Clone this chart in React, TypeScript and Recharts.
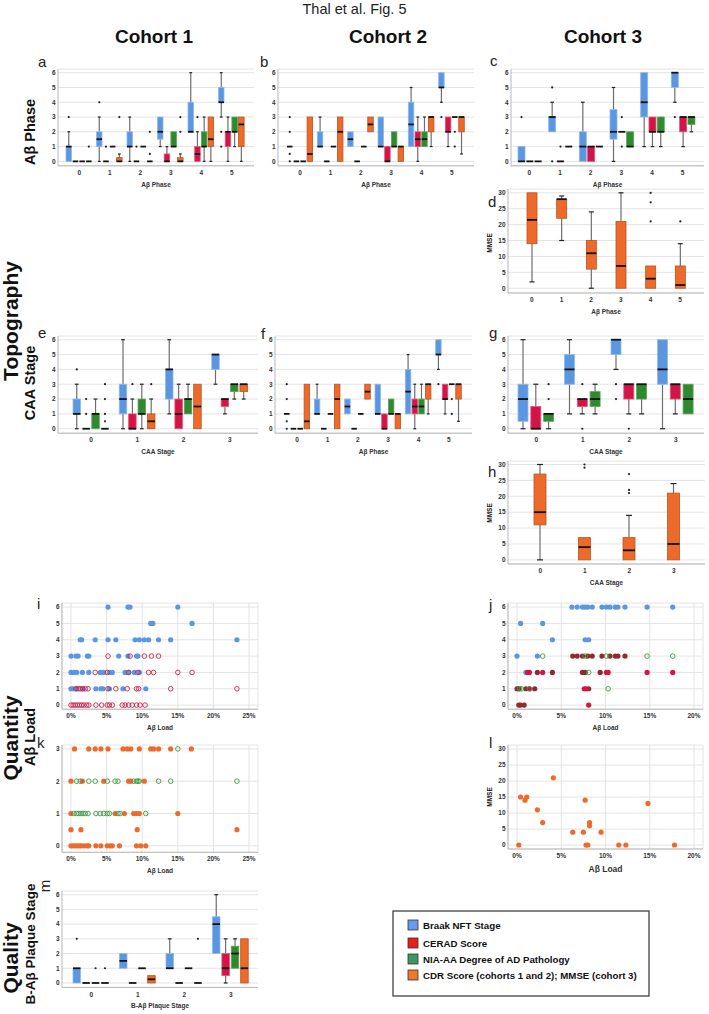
import React from 'react';
import { ComposedChart, ScatterChart, Bar, Scatter, XAxis, YAxis, CartesianGrid } from 'recharts';

const FONT = '"Liberation Sans", Arial, Helvetica, sans-serif';
const GRID = '#e4e4e4';
const AXIS = '#b8b8b8';
const TICK = { fontSize: 6.5, fontWeight: 700, fill: '#333', fontFamily: FONT };

// colours
const BLUE = '#5b96e0';
const BLUE_S = '#8fb9ec';
const RED = '#d31447';
const RED_S = '#e0577b';
const GREEN = '#2f8a2f';
const GREEN_S = '#58a558';
const ORANGE = '#ee6a2b';
const ORANGE_S = '#b9531f';
const DARKRED = '#8e2b2f';

// ---------- categories & ticks ----------
const phaseCats = ['0', '1', '2', '3', '4', '5'];
const caaCats = ['0', '1', '2', '3'];
const plaqueCats = ['0', '1', '2', '3'];
const scoreTicks = [0, 1, 2, 3, 4, 5, 6];
const mmseTicks = [0, 5, 10, 15, 20, 25, 30];
const cdrTicks = [0, 1, 2, 3];
const load25Ticks = [0, 5, 10, 15, 20, 25];
const load20Ticks = [0, 5, 10, 15, 20];

// ---------- box plot data: [whiskerLow, Q1, median, Q3, whiskerHigh] ----------
type Stat = number[];
// Panel a – cohort 1, Aβ phase
const aBraak: Stat[] = [[0, 0, 1, 1, 2], [0, 1, 1.5, 2, 3], [0, 1, 1, 2, 3], [1, 1.5, 2, 3, 3], [2, 2, 2, 4, 6], [3, 4, 4, 5, 6]];
const aBraakOut = [[3], [4], [], [], [], [2, 1]];
const aCerad: Stat[] = [[0, 0, 0, 0, 0], [0, 0, 0, 0, 0], [0, 0, 0, 0, 0], [0, 0, 0, 0.5, 1], [0, 0, 0.5, 1, 2], [0, 1, 2, 2, 3]];
const aCeradOut = [[], [1], [1], [], [3], []];
const aNia: Stat[] = [[0, 0, 0, 0, 0], [1, 1, 1, 1, 1], [1, 1, 1, 1, 1], [1, 1, 1, 2, 2], [0, 1, 1, 2, 3], [1, 2, 2, 3, 3]];
const aNiaOut = [[], [], [], [], [], []];
const aCdr: Stat[] = [[0, 0, 0, 0, 0], [0, 0, 0, 0.25, 0.5], [0, 0, 0, 0, 0], [0, 0, 0, 0.25, 0.5], [0, 1, 1.5, 3, 3], [0, 1, 2.5, 3, 3]];
const aCdrOut = [[1], [3], [2, 0.5], [2, 3], [], []];
// Panel b / f – cohort 2, Aβ phase
const bBraak: Stat[] = [[1, 1, 1, 1, 1], [1, 1, 1, 2, 3], [1, 1, 1.5, 2, 2], [1, 1, 1, 3, 3], [1, 1, 2.5, 4, 5], [4, 5, 5, 6, 6]];
const bBraakOut = [[3, 2, 0.5, 0], [], [], [], [], [3]];
const bCerad: Stat[] = [[0, 0, 0, 0, 0], [0, 0, 0, 0, 0], [0, 0, 0, 0, 0], [0, 0, 0, 1, 1], [0, 1, 1.5, 2, 3], [1, 2, 2, 3, 3]];
const bCeradOut = [[], [], [], [], [], []];
const bNia: Stat[] = [[0, 0, 0, 0, 0], [1, 1, 1, 1, 1], [1, 1, 1, 1, 1], [1, 1, 1, 2, 2], [1, 1, 1.5, 2, 3], [3, 3, 3, 3, 3]];
const bNiaOut = [[], [], [], [], [], [2, 1]];
const bCdr: Stat[] = [[0, 0, 0.5, 3, 3], [0, 0, 2, 3, 3], [2, 2, 2.5, 3, 3], [0, 0, 1, 1, 1], [1, 2, 3, 3, 3], [0.5, 2, 3, 3, 3]];
const bCdrOut = [[], [], [], [], [], []];
// Panel c – cohort 3, Aβ phase
const cBraak: Stat[] = [[0, 0, 0, 1, 1], [2, 2, 3, 3, 4], [0, 0, 1, 2, 4], [0, 1.5, 2, 3.5, 5], [1, 3, 4, 6, 6], [4, 5, 6, 6, 6]];
const cBraakOut = [[3], [5, 0], [], [], [], [3]];
const cCerad: Stat[] = [[0, 0, 0, 0, 0], [0, 0, 0, 0, 0], [0, 0, 1, 1, 1], [2, 2, 2, 2, 2], [1, 2, 2, 3, 3], [1, 2, 3, 3, 3]];
const cCeradOut = [[], [1], [], [3, 1], [], []];
const cNia: Stat[] = [[0, 0, 0, 0, 0], [1, 1, 1, 1, 1], [1, 1, 1, 1, 1], [1, 1, 1, 2, 2], [1, 2, 2, 3, 3], [2, 2.5, 3, 3, 3]];
const cNiaOut = [[], [], [], [], [], []];
// Panel d – cohort 3 MMSE by Aβ phase
const dMmse: Stat[] = [[2, 14, 21.5, 30, 30], [15, 22, 28, 28, 29], [0, 6, 11, 15, 24], [0, 0, 7, 21, 30], [0, 0, 3, 7, 7], [0, 0, 1, 7, 14]];
const dMmseOut = [[], [], [], [], [21, 27, 30], [21]];
// Panel e – cohort 1, CAA stage
const eBraak: Stat[] = [[0, 1, 1, 2, 3], [0, 1, 2, 3, 6], [1, 2, 4, 4, 6], [3, 4, 5, 5, 5]];
const eBraakOut = [[4], [], [], []];
const eCerad: Stat[] = [[0, 0, 0, 0, 0], [0, 0, 0, 1, 2], [0, 0, 1, 2, 3], [1, 1.5, 2, 2, 2]];
const eCeradOut = [[2, 1], [3], [], []];
const eNia: Stat[] = [[0, 0, 1, 1, 2], [0, 1, 1, 2, 3], [1, 1, 2, 2, 3], [2, 2.5, 3, 3, 3]];
const eNiaOut = [[], [], [], []];
const eCdr: Stat[] = [[0, 0, 0, 0, 0], [0, 0, 0.5, 1, 2], [0, 0, 1.5, 3, 3], [2, 2.5, 3, 3, 3]];
const eCdrOut = [[3, 2, 1, 0.5], [3], [], []];
// Panel g – cohort 3, CAA stage
const gBraak: Stat[] = [[0, 0.5, 2, 3, 6], [1, 3, 4, 5, 6], [4, 5, 6, 6, 6], [0, 3, 4, 6, 6]];
const gBraakOut = [[], [], [3, 2], []];
const gCerad: Stat[] = [[0, 0, 0, 1.5, 3], [1, 1.5, 2, 2, 2], [1, 2, 3, 3, 3], [1, 2, 3, 3, 3]];
const gCeradOut = [[], [3, 0], [0], []];
const gNia: Stat[] = [[0, 0.5, 1, 1, 1], [1, 1.5, 2, 2.5, 3], [1, 2, 3, 3, 3], [1, 1, 2, 3, 3]];
const gNiaOut = [[3, 2], [], [], []];
// Panel h – cohort 3 MMSE by CAA stage
const hMmse: Stat[] = [[0, 11, 15, 27, 30], [0, 0, 4, 7, 7], [0, 0, 3, 7, 14], [0, 0, 5, 21, 24]];
const hMmseOut = [[], [29, 30], [21, 22, 27], []];
// Panel m – cohort 1, B-Aβ plaque stage
const mBraak: Stat[] = [[0, 0, 1, 1, 1], [1, 1, 1.5, 2, 2], [1, 1, 1, 2, 3], [2, 2, 4, 4.5, 6]];
const mBraakOut = [[3], [], [], []];
const mCerad: Stat[] = [[0, 0, 0, 0, 0], [0, 0, 0, 0, 0], [0, 0, 0, 0, 0], [0, 0.5, 1, 2, 3]];
const mCeradOut = [[], [], [], []];
const mNia: Stat[] = [[0, 0, 0, 0, 0], [1, 1, 1, 1, 1], [1, 1, 1, 1, 1], [1, 1, 2, 2.5, 3]];
const mNiaOut = [[1], [], [], []];
const mCdr: Stat[] = [[0, 0, 0, 0, 0], [0, 0, 0.25, 0.5, 0.5], [0, 0, 0, 0, 0], [0, 0, 1, 3, 3]];
const mCdrOut = [[1], [], [3], []];

// ---------- scatter data: [score, loads(%)] ----------
type Row = [number, number[]];
const iBraak: Row[] = [
  [6, [5.2, 8.0, 8.3, 15.0]],
  [5, [11.2, 11.5, 17.0]],
  [4, [1.3, 1.5, 3.4, 5.2, 6.3, 9.0, 9.6, 10.3, 10.9, 12.3, 14.0, 23.3]],
  [3, [0, 0.7, 1.0, 2.3, 2.5, 6.7, 8.0, 9.2, 9.4]],
  [2, [0, 0.4, 0.8, 1.6, 2.5, 4.1, 4.6, 5.4, 5.8, 7.6, 8.1, 8.9, 9.6]],
  [1, [0, 0.3, 0.7, 1.7, 3.5, 4.2, 4.5, 5.4, 7.3, 10.5]],
];
const iCerad: Row[] = [
  [3, [5.2, 8.3, 10.3, 11.3, 12.3]],
  [2, [3.4, 5.1, 8.1, 9.4, 10.9, 11.6, 15.0, 17.0]],
  [1, [0.7, 1.0, 1.3, 1.6, 2.0, 2.4, 5.2, 6.3, 7.9, 9.2, 9.5, 14.0, 23.3]],
  [0, [0, 0.3, 0.6, 0.9, 1.2, 1.5, 1.8, 2.2, 2.5, 3.5, 4.3, 5.1, 5.4, 5.8, 7.2, 7.6, 8.1, 8.6, 9.2, 9.7, 10.4]],
];
const kNia: Row[] = [
  [3, [15.0]],
  [2, [0.8, 1.3, 2.5, 3.4, 5.1, 6.2, 6.6, 8.8, 9.2, 9.4, 9.6, 12.3, 14.0, 23.3]],
  [1, [0.4, 0.8, 1.1, 1.4, 1.7, 2.0, 2.4, 3.5, 4.1, 4.6, 5.1, 5.4, 6.6, 6.9, 10.5]],
];
const kCdr: Row[] = [
  [3, [0.5, 2.5, 3.4, 4.2, 5.2, 7.3, 7.9, 8.4, 9.6, 11.2, 11.6, 12.3, 14.0, 16.9]],
  [2, [0, 1.6, 4.6, 8.1, 8.4, 10.3]],
  [1, [0, 6.2, 7.5, 8.8, 9.2, 9.6, 15.0]],
  [0.5, [0, 1.4, 9.3, 23.3]],
  [0, [0, 0.3, 0.6, 0.9, 1.2, 1.5, 1.9, 2.3, 2.5, 3.5, 4.2, 5.1, 5.5, 5.8, 6.8, 9.2, 9.8, 10.5]],
];
const jBraak: Row[] = [
  [6, [6.2, 6.8, 7.4, 7.7, 8.0, 8.5, 9.6, 10.1, 10.5, 11.1, 11.4, 12.2, 14.7, 17.6]],
  [5, [0.4, 2.9]],
  [4, [4.0, 7.7, 8.1]],
  [3, [0, 2.3]],
  [2, [1.0]],
];
const jNia: Row[] = [
  [3, [6.3, 6.8, 7.4, 8.0, 8.5, 9.6, 10.5, 11.1, 11.4, 12.2]],
  [2, [2.3, 4.0, 7.4, 7.7, 9.4]],
  [1, [0, 0.2, 1.0, 2.0, 8.1]],
  [0, [0.2, 0.4, 0.8]],
];
const jCerad: Row[] = [
  [2, [1.2, 1.4, 2.9, 10.1, 10.3, 14.7, 17.6]],
  [1, [1.4, 7.6, 7.8]],
  [0, [8.1]],
];
const jOpen: Row[] = [
  [3, [2.9, 7.7, 10.1, 14.7, 17.6]],
  [2, [8.1]],
  [1, [0.3, 0.5, 1.4, 10.3]],
];
const lLoad = [0.2, 0.4, 0.9, 1.1, 2.3, 2.9, 4.1, 6.3, 7.5, 7.7, 7.8, 8.0, 8.2, 8.2, 9.5, 11.5, 12.3, 14.8, 17.8];
const lMmse = [0, 15, 14, 15, 11, 7, 21, 4, 4, 14, 0, 0, 7, 6, 4, 0, 0, 13, 0];

// ---------- legend ----------
const legendItems = [
  { label: 'Braak NFT Stage', color: '#6a9af0' },
  { label: 'CERAD Score', color: '#ee1c1c' },
  { label: 'NIA-AA Degree of AD Pathology', color: '#3a9a62' },
  { label: 'CDR Score (cohorts 1 and 2); MMSE (cohort 3)', color: '#f0782a' },
];

// ---------- helpers ----------
interface BoxSeries { stats: Stat[]; out: number[][]; fill: string; stroke: string }
const YW = 22, MT = 5, MR = 5, XH = 24;

function buildRows(cats: string[], series: BoxSeries[]) {
  return cats.map((c, i) => {
    const row: any = { cat: c };
    series.forEach((s, k) => {
      const st = s.stats[i];
      const o = s.out[i] || [];
      const all = [st[0], st[4], ...o];
      row['s' + k] = st;
      row['o' + k] = o;
      row['e' + k] = [Math.min(...all), Math.max(...all)];
      row['b' + k] = [st[1], st[3]];
    });
    return row;
  });
}

function makeExtent(k: number) {
  return (p: any) => {
    const st: Stat = p.payload['s' + k];
    const o: number[] = p.payload['o' + k];
    const [mn, mx] = p.payload['e' + k];
    if (!(mx > mn) || !(p.height > 0)) return <g />;
    const ppu = p.height / (mx - mn);
    const Y = (v: number) => p.y + (mx - v) * ppu;
    const cx = p.x + p.width / 2;
    const cw = Math.max(2.5, p.width * 0.5);
    return (
      <g>
        {st[4] > st[3] && <line x1={cx} x2={cx} y1={Y(st[3])} y2={Y(st[4])} stroke="#6e6e6e" strokeWidth={1.2} />}
        {st[4] > st[3] && <line x1={cx - cw / 2} x2={cx + cw / 2} y1={Y(st[4])} y2={Y(st[4])} stroke="#222" strokeWidth={1.2} />}
        {st[0] < st[1] && <line x1={cx} x2={cx} y1={Y(st[1])} y2={Y(st[0])} stroke="#6e6e6e" strokeWidth={1.2} />}
        {st[0] < st[1] && <line x1={cx - cw / 2} x2={cx + cw / 2} y1={Y(st[0])} y2={Y(st[0])} stroke="#222" strokeWidth={1.2} />}
        {o.map((v, j) => <circle key={j} cx={cx} cy={Y(v)} r={1.1} fill="#222" />)}
      </g>
    );
  };
}

function makeBox(k: number, s: BoxSeries) {
  return (p: any) => {
    const st: Stat = p.payload['s' + k];
    if (st[3] > st[1] && p.height > 0) {
      const ppu = p.height / (st[3] - st[1]);
      const my = p.y + (st[3] - st[2]) * ppu;
      return (
        <g>
          <rect x={p.x} y={p.y} width={p.width} height={p.height} fill={s.fill} stroke={s.stroke} strokeWidth={0.8} />
          <line x1={p.x} x2={p.x + p.width} y1={my} y2={my} stroke="#111" strokeWidth={1.8} />
        </g>
      );
    }
    return <line x1={p.x} x2={p.x + p.width} y1={p.y} y2={p.y} stroke="#111" strokeWidth={1.8} />;
  };
}

interface BoxPanelProps {
  left: number; top: number; w: number; h: number; cats: string[]; series: BoxSeries[];
  domain: [number, number]; ticks: number[]; pad: [number, number]; barSize: number; barGap: number; xLabel: string;
}

function BoxPanel({ left, top, w, h, cats, series, domain, ticks, pad, barSize, barGap, xLabel }: BoxPanelProps) {
  const rows = buildRows(cats, series);
  return (
    <div style={{ position: 'absolute', left: left - YW, top: top - MT }}>
      <ComposedChart width={w + YW + MR} height={h + MT + XH} data={rows} margin={{ top: MT, right: MR, left: 0, bottom: 0 }} barGap={barGap}>
        <CartesianGrid vertical={false} stroke={GRID} xAxisId="x" />
        <XAxis xAxisId="x" dataKey="cat" type="category" padding={{ left: pad[0], right: pad[1] }} height={XH} interval={0}
          tickLine={false} axisLine={{ stroke: AXIS }} tick={TICK} tickSize={3} tickMargin={1.5}
          label={{ value: xLabel, position: 'insideBottom', offset: 3, fontSize: 6.5, fontWeight: 700, fill: '#333', fontFamily: FONT }} />
        <XAxis xAxisId="w" dataKey="cat" type="category" padding={{ left: pad[0], right: pad[1] }} height={0} hide />
        <YAxis type="number" domain={domain} ticks={ticks} width={YW} interval={0} tickLine={false} axisLine={{ stroke: AXIS }}
          tick={TICK} tickSize={2} tickMargin={0.5} />
        {series.map((s, k) => (
          <Bar key={'e' + k} xAxisId="w" dataKey={'e' + k} barSize={barSize} fill="none" shape={makeExtent(k)} isAnimationActive={false} />
        ))}
        {series.map((s, k) => (
          <Bar key={'b' + k} xAxisId="x" dataKey={'b' + k} barSize={barSize} fill={s.fill} shape={makeBox(k, s)} isAnimationActive={false} />
        ))}
      </ComposedChart>
    </div>
  );
}

interface ScatterSeries { rows: { x: number; y: number }[]; color: string; hollow?: boolean }

function fromRows(rows: Row[]) {
  const pts: { x: number; y: number }[] = [];
  rows.forEach(([y, xs]) => xs.forEach((x) => pts.push({ x, y })));
  return pts;
}

function dot(color: string, hollow?: boolean) {
  return (p: any) => (
    <circle cx={p.cx} cy={p.cy} r={hollow ? 2.3 : 2.6} fill={hollow ? 'none' : color} stroke={color} strokeWidth={hollow ? 0.9 : 0} />
  );
}

interface ScatterPanelProps {
  left: number; top: number; w: number; h: number; xDomain: [number, number]; xTicks: number[];
  yDomain: [number, number]; yTicks: number[]; series: ScatterSeries[]; xLabel: string; xLabelSize?: number;
}

function ScatterPanel({ left, top, w, h, xDomain, xTicks, yDomain, yTicks, series, xLabel, xLabelSize }: ScatterPanelProps) {
  return (
    <div style={{ position: 'absolute', left: left - YW, top: top - MT }}>
      <ScatterChart width={w + YW + MR} height={h + MT + XH} margin={{ top: MT, right: MR, left: 0, bottom: 0 }}>
        <CartesianGrid stroke={GRID} />
        <XAxis type="number" dataKey="x" domain={xDomain} ticks={xTicks} interval={0} height={XH} tickFormatter={(v: number) => v + '%'}
          tickLine={false} axisLine={{ stroke: AXIS }} tick={TICK} tickSize={3} tickMargin={1.5}
          label={{ value: xLabel, position: 'insideBottom', offset: xLabelSize ? 1 : 3, fontSize: xLabelSize || 6.5, fontWeight: 700, fill: '#333', fontFamily: FONT }} />
        <YAxis type="number" dataKey="y" domain={yDomain} ticks={yTicks} interval={0} width={YW} tickLine={false} axisLine={{ stroke: AXIS }}
          tick={TICK} tickSize={2} tickMargin={0.5} />
        {series.map((s, k) => (
          <Scatter key={k} data={s.rows} fill={s.color} shape={dot(s.color, s.hollow)} isAnimationActive={false} />
        ))}
      </ScatterChart>
    </div>
  );
}

function RotText({ x, y, size, children, weight = 700 }: any) {
  return (
    <text transform={`translate(${x},${y}) rotate(-90)`} textAnchor="middle" fontSize={size} fontWeight={weight} fill="#111" fontFamily={FONT}>
      {children}
    </text>
  );
}

function Letter({ x, y, children }: any) {
  return <text x={x} y={y} fontSize={15} fill="#222" fontFamily={FONT}>{children}</text>;
}

function Overlay() {
  return (
    <svg width={709} height={1014} style={{ position: 'absolute', left: 0, top: 0 }}>
      <text x={354.5} y={14} textAnchor="middle" fontSize={14.5} fill="#222" fontFamily={FONT}>Thal et al. Fig. 5</text>
      <text x={154} y={43} textAnchor="middle" fontSize={19} fontWeight={700} fill="#111" fontFamily={FONT}>Cohort 1</text>
      <text x={388} y={43} textAnchor="middle" fontSize={19} fontWeight={700} fill="#111" fontFamily={FONT}>Cohort 2</text>
      <text x={603} y={43} textAnchor="middle" fontSize={19} fontWeight={700} fill="#111" fontFamily={FONT}>Cohort 3</text>

      <RotText x={35} y={132} size={14.5}>Aβ Phase</RotText>
      <RotText x={18} y={321} size={21}>Topography</RotText>
      <RotText x={35} y={383} size={14.5}>CAA Stage</RotText>
      <RotText x={18} y={738} size={21}>Quantity</RotText>
      <RotText x={35} y={737} size={14.5}>Aβ Load</RotText>
      <RotText x={18} y={958} size={21}>Quality</RotText>
      <RotText x={35} y={944} size={13.5}>B-Aβ Plaque Stage</RotText>

      <Letter x={38} y={67}>a</Letter>
      <Letter x={260} y={67}>b</Letter>
      <Letter x={490} y={66}>c</Letter>
      <Letter x={488} y={207}>d</Letter>
      <Letter x={38} y={338}>e</Letter>
      <Letter x={261} y={339}>f</Letter>
      <Letter x={489} y={338}>g</Letter>
      <Letter x={488} y={477}>h</Letter>
      <Letter x={37} y={609}>i</Letter>
      <Letter x={489} y={610}>j</Letter>
      <Letter x={37} y={748}>k</Letter>
      <Letter x={489} y={748}>l</Letter>
      <text transform="translate(50,886) rotate(-90)" textAnchor="middle" fontSize={15} fill="#222" fontFamily={FONT}>m</text>

      <RotText x={492} y={243} size={6.5}>MMSE</RotText>
      <RotText x={492} y={513} size={6.5}>MMSE</RotText>
      <RotText x={492} y={797} size={6.5}>MMSE</RotText>

      <rect x={393} y={911} width={256} height={85} fill="#fff" stroke="#333" strokeWidth={1.2} />
      {legendItems.map((it, i) => {
        const cy = [925, 943, 959, 975][i];
        return (
          <g key={i}>
            <rect x={408} y={cy - 5} width={10} height={10} fill={it.color} stroke="#333" strokeWidth={0.8} />
            <text x={423} y={cy + 3.5} fontSize={9.7} fontWeight={700} fill="#111" fontFamily={FONT}>{it.label}</text>
          </g>
        );
      })}
    </svg>
  );
}

const S = (stats: Stat[], out: number[][], fill: string, stroke: string): BoxSeries => ({ stats, out, fill, stroke });

export default function App() {
  return (
    <div style={{ position: 'absolute', left: 0, top: 0, width: 709, height: 1014, background: '#fff', fontFamily: FONT, overflow: 'hidden' }}>
      <Overlay />
      {/* a */}
      <BoxPanel left={58} top={68.6} w={196} h={96.8} cats={phaseCats} domain={[-0.3, 6.25]} ticks={scoreTicks} pad={[6, 7]} barSize={5.5} barGap={1.2} xLabel="Aβ Phase"
        series={[S(aBraak, aBraakOut, BLUE, BLUE_S), S(aCerad, aCeradOut, RED, RED_S), S(aNia, aNiaOut, GREEN, GREEN_S), S(aCdr, aCdrOut, ORANGE, ORANGE_S)]} />
      {/* b */}
      <BoxPanel left={278} top={68.6} w={196} h={96.8} cats={phaseCats} domain={[-0.3, 6.25]} ticks={scoreTicks} pad={[7, 7]} barSize={5.5} barGap={1.2} xLabel="Aβ Phase"
        series={[S(bBraak, bBraakOut, BLUE, BLUE_S), S(bCerad, bCeradOut, RED, RED_S), S(bNia, bNiaOut, GREEN, GREEN_S), S(bCdr, bCdrOut, ORANGE, ORANGE_S)]} />
      {/* c */}
      <BoxPanel left={511} top={68.6} w={193} h={96.8} cats={phaseCats} domain={[-0.3, 6.25]} ticks={scoreTicks} pad={[3, 6]} barSize={7} barGap={1.3} xLabel="Aβ Phase"
        series={[S(cBraak, cBraakOut, BLUE, BLUE_S), S(cCerad, cCeradOut, RED, RED_S), S(cNia, cNiaOut, GREEN, GREEN_S)]} />
      {/* d */}
      <BoxPanel left={508} top={189} w={196} h={104} cats={phaseCats} domain={[-1.5, 31.2]} ticks={mmseTicks} pad={[9, 9]} barSize={10} barGap={0} xLabel="Aβ Phase"
        series={[S(dMmse, dMmseOut, ORANGE, ORANGE_S)]} />
      {/* e */}
      <BoxPanel left={58} top={335.6} w={200} h={97.2} cats={caaCats} domain={[-0.3, 6.25]} ticks={scoreTicks} pad={[10, 5]} barSize={7.5} barGap={1.9} xLabel="CAA Stage"
        series={[S(eBraak, eBraakOut, BLUE, BLUE_S), S(eCerad, eCeradOut, RED, RED_S), S(eNia, eNiaOut, GREEN, GREEN_S), S(eCdr, eCdrOut, ORANGE, ORANGE_S)]} />
      {/* f */}
      <BoxPanel left={275} top={335.6} w={197} h={97.2} cats={phaseCats} domain={[-0.3, 6.25]} ticks={scoreTicks} pad={[7, 8]} barSize={5.5} barGap={1.2} xLabel="Aβ Phase"
        series={[S(bBraak, bBraakOut, BLUE, BLUE_S), S(bCerad, bCeradOut, RED, RED_S), S(bNia, bNiaOut, GREEN, GREEN_S), S(bCdr, bCdrOut, ORANGE, ORANGE_S)]} />
      {/* g */}
      <BoxPanel left={508} top={335.6} w={196} h={97.2} cats={caaCats} domain={[-0.3, 6.25]} ticks={scoreTicks} pad={[5, 5]} barSize={10} barGap={2.8} xLabel="CAA Stage"
        series={[S(gBraak, gBraakOut, BLUE, BLUE_S), S(gCerad, gCeradOut, RED, RED_S), S(gNia, gNiaOut, GREEN, GREEN_S)]} />
      {/* h */}
      <BoxPanel left={508} top={460.5} w={197} h={103} cats={caaCats} domain={[-1.3, 31.1]} ticks={mmseTicks} pad={[10, 9]} barSize={12} barGap={0} xLabel="CAA Stage"
        series={[S(hMmse, hMmseOut, ORANGE, ORANGE_S)]} />
      {/* i */}
      <ScatterPanel left={62} top={602.9} w={196} h={106.2} xDomain={[-1.26, 26.26]} xTicks={load25Ticks} yDomain={[-0.25, 6.25]} yTicks={scoreTicks} xLabel="Aβ Load"
        series={[{ rows: fromRows(iBraak), color: BLUE }, { rows: fromRows(iCerad), color: '#c8234e', hollow: true }]} />
      {/* j */}
      <ScatterPanel left={508} top={602.9} w={195} h={106.2} xDomain={[-1.02, 21.02]} xTicks={load20Ticks} yDomain={[-0.25, 6.25]} yTicks={scoreTicks} xLabel="Aβ Load"
        series={[{ rows: fromRows(jBraak), color: BLUE }, { rows: fromRows(jNia), color: DARKRED }, { rows: fromRows(jCerad), color: RED }, { rows: fromRows(jOpen), color: '#3c9a3f', hollow: true }]} />
      {/* k */}
      <ScatterPanel left={62} top={745.1} w={196} h={107.3} xDomain={[-1.26, 26.26]} xTicks={load25Ticks} yDomain={[-0.2, 3.12]} yTicks={cdrTicks} xLabel="Aβ Load"
        series={[{ rows: fromRows(kCdr), color: ORANGE }, { rows: fromRows(kNia), color: '#3c9a3f', hollow: true }]} />
      {/* l */}
      <ScatterPanel left={508} top={745} w={195} h={104} xDomain={[-1.02, 21.02]} xTicks={load20Ticks} yDomain={[-1.25, 31.25]} yTicks={mmseTicks} xLabel="Aβ Load" xLabelSize={8.5}
        series={[{ rows: lLoad.map((x, i) => ({ x, y: lMmse[i] })), color: ORANGE }]} />
      {/* m */}
      <BoxPanel left={62} top={891.3} w={196} h={96.4} cats={plaqueCats} domain={[-0.3, 6.25]} ticks={scoreTicks} pad={[6, 4]} barSize={7.5} barGap={1.9} xLabel="B-Aβ Plaque Stage"
        series={[S(mBraak, mBraakOut, BLUE, BLUE_S), S(mCerad, mCeradOut, RED, RED_S), S(mNia, mNiaOut, GREEN, GREEN_S), S(mCdr, mCdrOut, ORANGE, ORANGE_S)]} />
    </div>
  );
}
